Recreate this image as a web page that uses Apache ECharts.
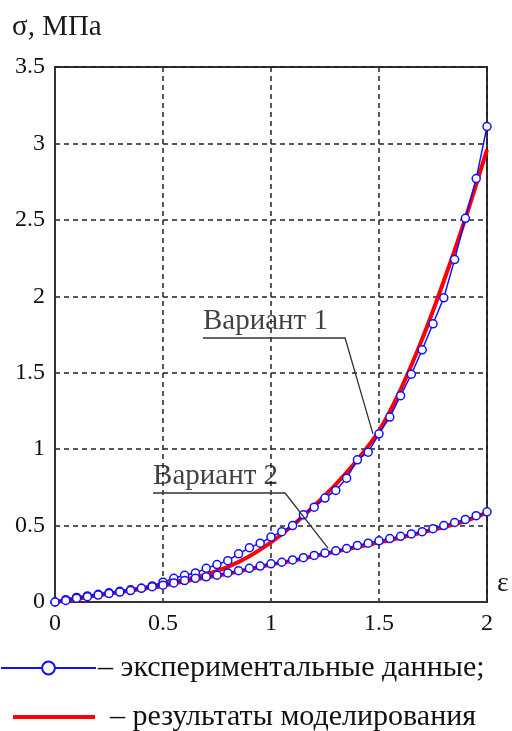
<!DOCTYPE html>
<html>
<head>
<meta charset="utf-8">
<script src="https://cdn.jsdelivr.net/npm/echarts@6/dist/echarts.min.js"></script>
<style>
html,body{margin:0;padding:0;background:#fff;}
#chart{width:512px;height:731px;}
</style>
</head>
<body>
<div id="chart"></div>
<script>
// ---- data ----
var strainExp = [0,0.05,0.1,0.15,0.2,0.25,0.3,0.35,0.4,0.45,0.5,0.55,0.6,0.65,0.7,0.75,0.8,0.85,0.9,0.95,1.0,1.05,1.1,1.15,1.2,1.25,1.3,1.35,1.4,1.45,1.5,1.55,1.6,1.65,1.7,1.75,1.8,1.85,1.9,1.95,2.0];
var stressExpV1 = [0,0.015,0.03,0.04,0.05,0.06,0.07,0.08,0.09,0.105,0.13,0.155,0.175,0.19,0.22,0.245,0.27,0.315,0.355,0.385,0.425,0.46,0.50,0.57,0.62,0.68,0.73,0.81,0.93,0.98,1.10,1.21,1.35,1.49,1.65,1.82,1.99,2.24,2.51,2.77,3.11];
var stressExpV2 = [0,0.01,0.025,0.035,0.045,0.055,0.065,0.075,0.09,0.10,0.11,0.125,0.14,0.155,0.165,0.175,0.19,0.205,0.22,0.235,0.25,0.26,0.275,0.29,0.305,0.32,0.335,0.35,0.37,0.385,0.40,0.415,0.43,0.445,0.46,0.48,0.50,0.52,0.54,0.565,0.59];

var strainModel = [0,0.1,0.2,0.3,0.4,0.5,0.6,0.7,0.8,0.9,1.0,1.1,1.2,1.3,1.4,1.5,1.6,1.7,1.8,1.9,2.0];
var stressModelV1 = [0,0.025,0.045,0.065,0.09,0.115,0.145,0.18,0.23,0.30,0.39,0.50,0.63,0.77,0.93,1.12,1.39,1.72,2.10,2.51,2.96];
var stressModelV2 = [0,0.02,0.045,0.065,0.085,0.105,0.135,0.16,0.185,0.215,0.245,0.27,0.30,0.33,0.36,0.39,0.42,0.455,0.49,0.53,0.585];

// annotation leader lines (data coordinates): underline start, underline end, pointer end
var leaderV1 = [[0.685,1.727],[1.343,1.727],[1.472,1.10]];
var leaderV2 = [[0.454,0.713],[1.065,0.713],[1.264,0.353]];
var annotationNames = ['Вариант 1','Вариант 2'];

var xTicks = {min:0, max:2, interval:0.5};
var yTicks = {min:0, max:3.5, interval:0.5};
var legendNames = ['– экспериментальные данные;','– результаты моделирования'];
var yTitle = 'σ, МПа';
var xTitle = 'ε';

function zip(xs, ys){ return xs.map(function(x,i){ return [x, ys[i]]; }); }

var serif = '"Liberation Serif","DejaVu Serif",serif';
var blue = '#1010ff';
var red = '#ff0000';

var chart = echarts.init(document.getElementById('chart'), null, {renderer:'canvas'});

function modelSeries(data){
  return {type:'line', name:legendNames[1], data:data, showSymbol:false, symbol:'none',
    smooth:0.3, lineStyle:{color:red, width:4}, itemStyle:{color:red}, z:2, silent:true};
}
function expSeries(data){
  return {type:'line', name:legendNames[0], data:data, symbol:'circle', symbolSize:8,
    showSymbol:true, lineStyle:{color:blue, width:1.5},
    itemStyle:{color:'#fff', borderColor:blue, borderWidth:1.5}, z:3, silent:true};
}
function leaderSeries(data, name){
  return [{type:'line', data:data, symbol:'none', lineStyle:{color:'#333', width:1.3}, z:4, silent:true},
    {type:'scatter', data:[data[0]], symbolSize:0, z:5, silent:true,
      label:{show:true, formatter:name, position:[0,-2], align:'left', verticalAlign:'bottom',
        fontFamily:serif, fontSize:29, color:'#111'}}];
}

var option = {
  backgroundColor:'#fff',
  animation:false,
  grid:{left:55, right:25, top:67, bottom:129, show:true, borderColor:'#333', borderWidth:2, backgroundColor:'transparent'},
  xAxis:{type:'value', min:xTicks.min, max:xTicks.max, interval:xTicks.interval,
    axisLine:{show:true, lineStyle:{color:'#333', width:2}}, axisTick:{show:false},
    axisLabel:{fontFamily:serif, fontSize:24, color:'#111', margin:10},
    splitLine:{show:true, lineStyle:{color:'#222', type:[5,4], width:1.5}}},
  yAxis:{type:'value', min:yTicks.min, max:yTicks.max, interval:yTicks.interval,
    axisLine:{show:true, lineStyle:{color:'#333', width:2}}, axisTick:{show:false},
    axisLabel:{fontFamily:serif, fontSize:24, color:'#111', margin:10},
    splitLine:{show:true, lineStyle:{color:'#222', type:[5,4], width:1.5}}},
  legend:[
    {show:true, left:0, top:653, itemWidth:95, itemHeight:16, padding:0,
      data:[{name:legendNames[0]}], selectedMode:false,
      textStyle:{fontFamily:serif, fontSize:30, color:'#111', padding:[0,0,0,-3]}},
    {show:true, left:13, top:702, itemWidth:82, itemHeight:4, padding:0,
      data:[{name:legendNames[1], icon:'rect'}], selectedMode:false,
      textStyle:{fontFamily:serif, fontSize:30, color:'#111', padding:[0,0,0,10]}}
  ],
  graphic:[
    {type:'text', left:12, top:13, style:{text:yTitle, font:'29px '+serif, fill:'#1a1a1a'}},
    {type:'text', left:497, top:570, style:{text:xTitle, font:'28px '+serif, fill:'#1a1a1a'}}
  ],
  series:[].concat(
    [modelSeries(zip(strainModel, stressModelV1)), modelSeries(zip(strainModel, stressModelV2)),
     expSeries(zip(strainExp, stressExpV1)), expSeries(zip(strainExp, stressExpV2))],
    leaderSeries(leaderV1, annotationNames[0]),
    leaderSeries(leaderV2, annotationNames[1])
  )
};
chart.setOption(option);
</script>
</body>
</html>
